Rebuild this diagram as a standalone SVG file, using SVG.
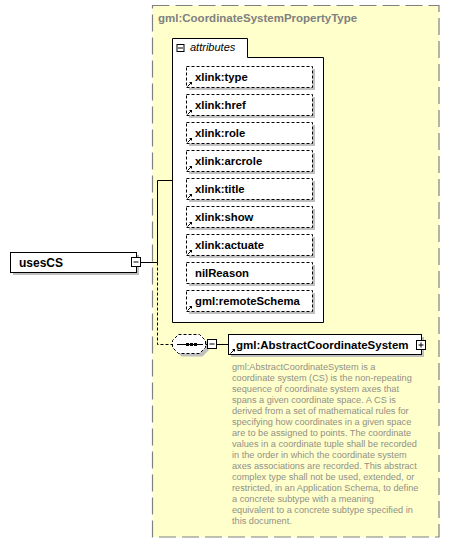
<svg xmlns="http://www.w3.org/2000/svg" width="450" height="543" viewBox="0 0 450 543">
<defs>
<style>
.name{font-family:"Liberation Sans",Arial,sans-serif;font-weight:bold;fill:#000}
.attr{font-size:11.3px}
.box{fill:#fff;stroke:#000;stroke-width:1}
.dbox{fill:#fff;stroke:#000;stroke-width:1;stroke-dasharray:3,2}
.shadow{fill:#c0c0c0}
.line{stroke:#000;stroke-width:1;fill:none}
.dline{stroke:#000;stroke-width:1;fill:none;stroke-dasharray:3,2}
.desc{font-family:"Liberation Sans",Arial,sans-serif;font-size:9.2px;fill:#929086}
</style>
<g id="ref">
<path d="M1.5,5.5 L5.5,1.5" stroke="#000" stroke-width="1" fill="none"/>
<path d="M3,1 L6,1 L6,4 Z" fill="#000"/>
</g>
</defs>
<rect x="0" y="0" width="450" height="543" fill="#fff"/>
<g id="type">
<rect x="152.5" y="5.5" width="286.5" height="531.5" fill="#ffffcc" stroke="#808080" stroke-width="1.2" stroke-dasharray="17,6"/>
<text x="158" y="22" class="name" style="font-size:11.5px;fill:#808080">gml:CoordinateSystemPropertyType</text>
</g>
<g id="attributes">
<path d="M172.5,38.5 H247.5 V57.5 H323.5 V322.5 H172.5 Z" class="box"/>
<rect x="177" y="44.5" width="7" height="7" class="box"/>
<line x1="178" y1="48" x2="183" y2="48" class="line"/>
<text x="190" y="51" style="font-family:'Liberation Sans',Arial,sans-serif;font-style:italic;font-size:11px;fill:#000">attributes</text>
</g>
<g id="attr-xlink-type">
<rect x="189" y="69" width="126" height="21" class="shadow"/>
<rect x="186.5" y="66.5" width="126" height="21" class="dbox"/>
<use href="#ref" x="186" y="81"/>
<text x="195" y="81" class="name attr">xlink:type</text>
</g>
<g id="attr-xlink-href">
<rect x="189" y="97" width="126" height="21" class="shadow"/>
<rect x="186.5" y="94.5" width="126" height="21" class="dbox"/>
<use href="#ref" x="186" y="109"/>
<text x="195" y="109" class="name attr">xlink:href</text>
</g>
<g id="attr-xlink-role">
<rect x="189" y="125" width="126" height="21" class="shadow"/>
<rect x="186.5" y="122.5" width="126" height="21" class="dbox"/>
<use href="#ref" x="186" y="137"/>
<text x="195" y="137" class="name attr">xlink:role</text>
</g>
<g id="attr-xlink-arcrole">
<rect x="189" y="153" width="126" height="21" class="shadow"/>
<rect x="186.5" y="150.5" width="126" height="21" class="dbox"/>
<use href="#ref" x="186" y="165"/>
<text x="195" y="165" class="name attr">xlink:arcrole</text>
</g>
<g id="attr-xlink-title">
<rect x="189" y="181" width="126" height="21" class="shadow"/>
<rect x="186.5" y="178.5" width="126" height="21" class="dbox"/>
<use href="#ref" x="186" y="193"/>
<text x="195" y="193" class="name attr">xlink:title</text>
</g>
<g id="attr-xlink-show">
<rect x="189" y="209" width="126" height="21" class="shadow"/>
<rect x="186.5" y="206.5" width="126" height="21" class="dbox"/>
<use href="#ref" x="186" y="221"/>
<text x="195" y="221" class="name attr">xlink:show</text>
</g>
<g id="attr-xlink-actuate">
<rect x="189" y="237" width="126" height="21" class="shadow"/>
<rect x="186.5" y="234.5" width="126" height="21" class="dbox"/>
<use href="#ref" x="186" y="249"/>
<text x="195" y="249" class="name attr">xlink:actuate</text>
</g>
<g id="attr-nilReason">
<rect x="189" y="265" width="126" height="21" class="shadow"/>
<rect x="186.5" y="262.5" width="126" height="21" class="dbox"/>
<text x="195" y="277" class="name attr">nilReason</text>
</g>
<g id="attr-gml-remoteSchema">
<rect x="189" y="293" width="126" height="21" class="shadow"/>
<rect x="186.5" y="290.5" width="126" height="21" class="dbox"/>
<use href="#ref" x="186" y="305"/>
<text x="195" y="305" class="name attr">gml:remoteSchema</text>
</g>
<g id="connectors">
<path d="M140.5,262.5 H157.5 V180.5 H172.5" class="line"/>
<path d="M157.5,262.5 V344.5 H172.5" class="dline"/>
<line x1="217" y1="344.5" x2="228" y2="344.5" class="line"/>
</g>
<g id="usesCS">
<rect x="13" y="255" width="126" height="20" class="shadow"/>
<rect x="10.5" y="252.5" width="126" height="20" class="box"/>
<text x="19" y="267" class="name" style="font-size:12px">usesCS</text>
<rect x="131.5" y="257.5" width="9" height="9" class="box"/>
<line x1="133.5" y1="262" x2="138.5" y2="262" class="line"/>
</g>
<g id="sequence">
<path d="M181.5,337.5 H202.5 L208.5,343.5 V350.5 L202.5,356.5 H181.5 L175.5,350.5 V343.5 Z" class="shadow"/>
<path d="M178.5,334.5 H199.5 L205.5,340.5 V347.5 L199.5,353.5 H178.5 L172.5,347.5 V340.5 Z" class="dbox"/>
<line x1="177" y1="344.5" x2="203" y2="344.5" class="line"/>
<rect x="186" y="343" width="3" height="3" fill="#000"/>
<rect x="190" y="343" width="3" height="3" fill="#000"/>
<rect x="194" y="343" width="3" height="3" fill="#000"/>
<line x1="205.5" y1="344.5" x2="207" y2="344.5" class="line"/>
<rect x="207.5" y="339.5" width="9" height="9" class="box"/>
<line x1="209.5" y1="344" x2="214.5" y2="344" class="line"/>
</g>
<g id="gml-AbstractCoordinateSystem">
<rect x="231" y="337" width="193" height="20" class="shadow"/>
<rect x="228.5" y="334.5" width="193" height="20" class="box"/>
<use href="#ref" x="229" y="348"/>
<text x="236" y="349" class="name" style="font-size:11.5px">gml:AbstractCoordinateSystem</text>
<rect x="416.5" y="340.5" width="9" height="9" class="box"/>
<line x1="418.5" y1="345" x2="423.5" y2="345" class="line"/>
<line x1="421" y1="342.5" x2="421" y2="347.5" class="line"/>
<text class="desc">
<tspan x="232" y="370">gml:AbstractCoordinateSystem is a</tspan>
<tspan x="232" y="381">coordinate system (CS) is the non-repeating</tspan>
<tspan x="232" y="392">sequence of coordinate system axes that</tspan>
<tspan x="232" y="403">spans a given coordinate space. A CS is</tspan>
<tspan x="232" y="414">derived from a set of mathematical rules for</tspan>
<tspan x="232" y="425">specifying how coordinates in a given space</tspan>
<tspan x="232" y="436">are to be assigned to points. The coordinate</tspan>
<tspan x="232" y="447">values in a coordinate tuple shall be recorded</tspan>
<tspan x="232" y="458">in the order in which the coordinate system</tspan>
<tspan x="232" y="469">axes associations are recorded. This abstract</tspan>
<tspan x="232" y="480">complex type shall not be used, extended, or</tspan>
<tspan x="232" y="491">restricted, in an Application Schema, to define</tspan>
<tspan x="232" y="502">a concrete subtype with a meaning</tspan>
<tspan x="232" y="513">equivalent to a concrete subtype specified in</tspan>
<tspan x="232" y="524">this document.</tspan>
</text>
</g>
</svg>
